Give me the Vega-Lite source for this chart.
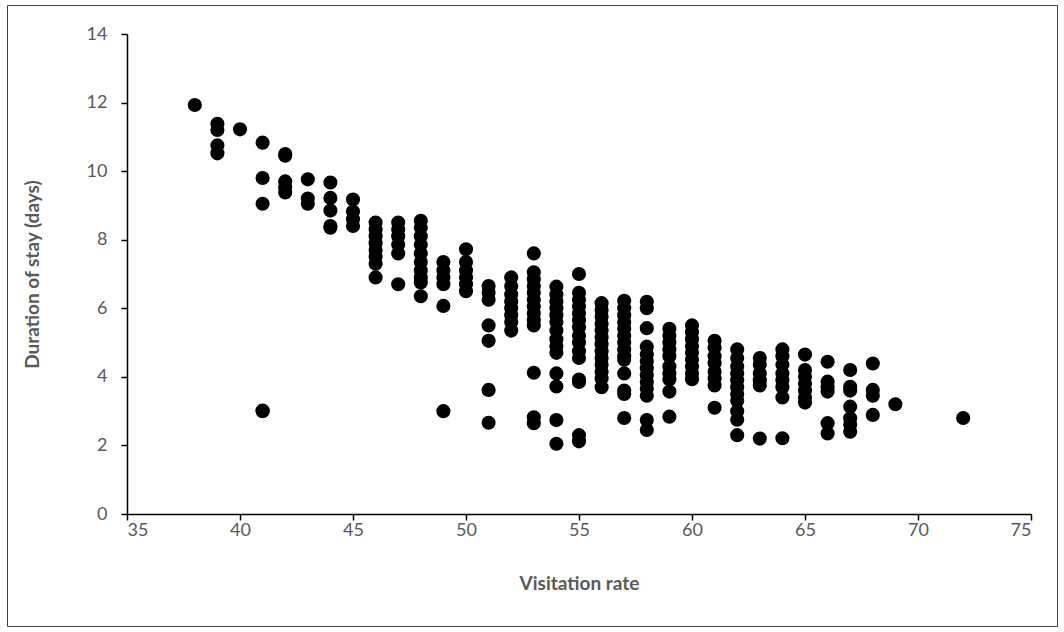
{
  "$schema": "https://vega.github.io/schema/vega-lite/v6.json",
  "autosize": {"type": "none"},
  "padding": {"left": 7, "top": 5, "right": 7, "bottom": 6},
  "width": 1050,
  "height": 621,
  "background": "#ffffff",
  "config": {
    "view": {"stroke": "#404040", "strokeWidth": 1},
    "font": "Lato"
  },
  "data": {"values": [
    {"rate": 38, "days": 11.93},
    {"rate": 39, "days": 11.38}, {"rate": 39, "days": 11.2}, {"rate": 39, "days": 10.75}, {"rate": 39, "days": 10.52},
    {"rate": 40, "days": 11.22},
    {"rate": 41, "days": 10.83}, {"rate": 41, "days": 9.8}, {"rate": 41, "days": 9.05}, {"rate": 41, "days": 3.0}, {"rate": 41, "days": 3.02},
    {"rate": 42, "days": 10.5}, {"rate": 42, "days": 10.45}, {"rate": 42, "days": 9.7}, {"rate": 42, "days": 9.52}, {"rate": 42, "days": 9.38},
    {"rate": 43, "days": 9.76}, {"rate": 43, "days": 9.2}, {"rate": 43, "days": 9.05},
    {"rate": 44, "days": 9.67}, {"rate": 44, "days": 9.22}, {"rate": 44, "days": 8.85}, {"rate": 44, "days": 8.4}, {"rate": 44, "days": 8.35},
    {"rate": 45, "days": 9.17}, {"rate": 45, "days": 8.82}, {"rate": 45, "days": 8.6}, {"rate": 45, "days": 8.4},
    {"rate": 46, "days": 8.5}, {"rate": 46, "days": 8.3}, {"rate": 46, "days": 8.1}, {"rate": 46, "days": 7.9}, {"rate": 46, "days": 7.7}, {"rate": 46, "days": 7.5}, {"rate": 46, "days": 7.3}, {"rate": 46, "days": 6.9},
    {"rate": 47, "days": 8.5}, {"rate": 47, "days": 8.3}, {"rate": 47, "days": 8.1}, {"rate": 47, "days": 7.85}, {"rate": 47, "days": 7.6}, {"rate": 47, "days": 6.7},
    {"rate": 48, "days": 8.55}, {"rate": 48, "days": 8.35}, {"rate": 48, "days": 8.1}, {"rate": 48, "days": 7.85}, {"rate": 48, "days": 7.6}, {"rate": 48, "days": 7.35}, {"rate": 48, "days": 7.1}, {"rate": 48, "days": 6.9}, {"rate": 48, "days": 6.75}, {"rate": 48, "days": 6.35},
    {"rate": 49, "days": 7.35}, {"rate": 49, "days": 7.1}, {"rate": 49, "days": 6.9}, {"rate": 49, "days": 6.7}, {"rate": 49, "days": 6.07}, {"rate": 49, "days": 3.0},
    {"rate": 50, "days": 7.72}, {"rate": 50, "days": 7.35}, {"rate": 50, "days": 7.1}, {"rate": 50, "days": 6.9}, {"rate": 50, "days": 6.7}, {"rate": 50, "days": 6.5},
    {"rate": 51, "days": 6.65}, {"rate": 51, "days": 6.45}, {"rate": 51, "days": 6.25}, {"rate": 51, "days": 5.5}, {"rate": 51, "days": 5.05}, {"rate": 51, "days": 3.62}, {"rate": 51, "days": 2.66},
    {"rate": 52, "days": 6.9}, {"rate": 52, "days": 6.65}, {"rate": 52, "days": 6.4}, {"rate": 52, "days": 6.2}, {"rate": 52, "days": 6.0}, {"rate": 52, "days": 5.8}, {"rate": 52, "days": 5.6}, {"rate": 52, "days": 5.35},
    {"rate": 53, "days": 7.6}, {"rate": 53, "days": 7.05}, {"rate": 53, "days": 6.85}, {"rate": 53, "days": 6.65}, {"rate": 53, "days": 6.45}, {"rate": 53, "days": 6.25}, {"rate": 53, "days": 6.05}, {"rate": 53, "days": 5.85}, {"rate": 53, "days": 5.65}, {"rate": 53, "days": 5.5}, {"rate": 53, "days": 4.12}, {"rate": 53, "days": 2.82}, {"rate": 53, "days": 2.65},
    {"rate": 54, "days": 6.63}, {"rate": 54, "days": 6.4}, {"rate": 54, "days": 6.2}, {"rate": 54, "days": 6.0}, {"rate": 54, "days": 5.8}, {"rate": 54, "days": 5.6}, {"rate": 54, "days": 5.35}, {"rate": 54, "days": 5.1}, {"rate": 54, "days": 4.9}, {"rate": 54, "days": 4.7}, {"rate": 54, "days": 4.1}, {"rate": 54, "days": 3.72}, {"rate": 54, "days": 2.74}, {"rate": 54, "days": 2.05},
    {"rate": 55, "days": 7.0}, {"rate": 55, "days": 6.45}, {"rate": 55, "days": 6.25}, {"rate": 55, "days": 6.05}, {"rate": 55, "days": 5.85}, {"rate": 55, "days": 5.65}, {"rate": 55, "days": 5.45}, {"rate": 55, "days": 5.2}, {"rate": 55, "days": 5.0}, {"rate": 55, "days": 4.75}, {"rate": 55, "days": 4.55}, {"rate": 55, "days": 3.92}, {"rate": 55, "days": 3.85}, {"rate": 55, "days": 2.3}, {"rate": 55, "days": 2.12},
    {"rate": 56, "days": 6.15}, {"rate": 56, "days": 5.95}, {"rate": 56, "days": 5.75}, {"rate": 56, "days": 5.55}, {"rate": 56, "days": 5.35}, {"rate": 56, "days": 5.15}, {"rate": 56, "days": 4.95}, {"rate": 56, "days": 4.75}, {"rate": 56, "days": 4.55}, {"rate": 56, "days": 4.35}, {"rate": 56, "days": 4.15}, {"rate": 56, "days": 3.95}, {"rate": 56, "days": 3.7},
    {"rate": 57, "days": 6.22}, {"rate": 57, "days": 6.0}, {"rate": 57, "days": 5.8}, {"rate": 57, "days": 5.6}, {"rate": 57, "days": 5.4}, {"rate": 57, "days": 5.2}, {"rate": 57, "days": 5.0}, {"rate": 57, "days": 4.8}, {"rate": 57, "days": 4.6}, {"rate": 57, "days": 4.5}, {"rate": 57, "days": 4.1}, {"rate": 57, "days": 3.6}, {"rate": 57, "days": 3.5}, {"rate": 57, "days": 2.8},
    {"rate": 58, "days": 6.19}, {"rate": 58, "days": 6.0}, {"rate": 58, "days": 5.42}, {"rate": 58, "days": 4.88}, {"rate": 58, "days": 4.65}, {"rate": 58, "days": 4.45}, {"rate": 58, "days": 4.25}, {"rate": 58, "days": 4.05}, {"rate": 58, "days": 3.85}, {"rate": 58, "days": 3.65}, {"rate": 58, "days": 3.45}, {"rate": 58, "days": 2.74}, {"rate": 58, "days": 2.45},
    {"rate": 59, "days": 5.4}, {"rate": 59, "days": 5.2}, {"rate": 59, "days": 5.0}, {"rate": 59, "days": 4.8}, {"rate": 59, "days": 4.6}, {"rate": 59, "days": 4.3}, {"rate": 59, "days": 4.1}, {"rate": 59, "days": 3.92}, {"rate": 59, "days": 3.57}, {"rate": 59, "days": 2.84},
    {"rate": 60, "days": 5.5}, {"rate": 60, "days": 5.3}, {"rate": 60, "days": 5.1}, {"rate": 60, "days": 4.9}, {"rate": 60, "days": 4.7}, {"rate": 60, "days": 4.5}, {"rate": 60, "days": 4.3}, {"rate": 60, "days": 4.1}, {"rate": 60, "days": 3.93},
    {"rate": 61, "days": 5.05}, {"rate": 61, "days": 4.85}, {"rate": 61, "days": 4.6}, {"rate": 61, "days": 4.4}, {"rate": 61, "days": 4.15}, {"rate": 61, "days": 3.95}, {"rate": 61, "days": 3.75}, {"rate": 61, "days": 3.1},
    {"rate": 62, "days": 4.8}, {"rate": 62, "days": 4.55}, {"rate": 62, "days": 4.3}, {"rate": 62, "days": 4.1}, {"rate": 62, "days": 3.9}, {"rate": 62, "days": 3.7}, {"rate": 62, "days": 3.5}, {"rate": 62, "days": 3.3}, {"rate": 62, "days": 3.0}, {"rate": 62, "days": 2.75}, {"rate": 62, "days": 2.3},
    {"rate": 63, "days": 4.55}, {"rate": 63, "days": 4.35}, {"rate": 63, "days": 4.1}, {"rate": 63, "days": 3.9}, {"rate": 63, "days": 3.75}, {"rate": 63, "days": 2.2},
    {"rate": 64, "days": 4.8}, {"rate": 64, "days": 4.6}, {"rate": 64, "days": 4.35}, {"rate": 64, "days": 4.1}, {"rate": 64, "days": 3.9}, {"rate": 64, "days": 3.7}, {"rate": 64, "days": 3.4}, {"rate": 64, "days": 2.21},
    {"rate": 65, "days": 4.65}, {"rate": 65, "days": 4.2}, {"rate": 65, "days": 4.0}, {"rate": 65, "days": 3.8}, {"rate": 65, "days": 3.6}, {"rate": 65, "days": 3.4}, {"rate": 65, "days": 3.25},
    {"rate": 66, "days": 4.44}, {"rate": 66, "days": 3.86}, {"rate": 66, "days": 3.7}, {"rate": 66, "days": 3.57}, {"rate": 66, "days": 2.65}, {"rate": 66, "days": 2.35},
    {"rate": 67, "days": 4.2}, {"rate": 67, "days": 3.71}, {"rate": 67, "days": 3.6}, {"rate": 67, "days": 3.13}, {"rate": 67, "days": 2.79}, {"rate": 67, "days": 2.6}, {"rate": 67, "days": 2.4},
    {"rate": 68, "days": 4.39}, {"rate": 68, "days": 3.62}, {"rate": 68, "days": 3.45}, {"rate": 68, "days": 2.89},
    {"rate": 69, "days": 3.2},
    {"rate": 72, "days": 2.8}
  ]},
  "mark": {"type": "point", "filled": true, "shape": "circle", "color": "#000000", "opacity": 1, "size": 200},
  "encoding": {
    "x": {
      "field": "rate", "type": "quantitative",
      "scale": {"domain": [35, 75], "range": [120, 1024], "nice": false, "zero": false},
      "axis": {
        "title": "Visitation rate", "offset": -112,
        "values": [35, 40, 45, 50, 55, 60, 65, 70, 75],
        "grid": false, "domainColor": "#000000", "domainWidth": 1.5,
        "tickColor": "#000000", "tickWidth": 1.5, "tickSize": 6,
        "labelFont": "Lato", "labelFontSize": 18, "labelColor": "#595959", "labelPadding": 1,
        "titleFont": "Lato", "titleFontSize": 19, "titleFontWeight": "bold", "titleColor": "#595959", "titlePadding": 35
      }
    },
    "y": {
      "field": "days", "type": "quantitative",
      "scale": {"domain": [0, 14], "range": [509, 29], "nice": false, "zero": true},
      "axis": {
        "title": "Duration of stay (days)", "offset": -120,
        "values": [0, 2, 4, 6, 8, 10, 12, 14],
        "grid": false, "domainColor": "#000000", "domainWidth": 1.5,
        "tickColor": "#000000", "tickWidth": 1.5, "tickSize": 6,
        "labelFont": "Lato", "labelFontSize": 18, "labelColor": "#595959", "labelPadding": 14,
        "titleFont": "Lato", "titleFontSize": 19, "titleFontWeight": "bold", "titleColor": "#595959", "titlePadding": 44
      }
    }
  }
}
